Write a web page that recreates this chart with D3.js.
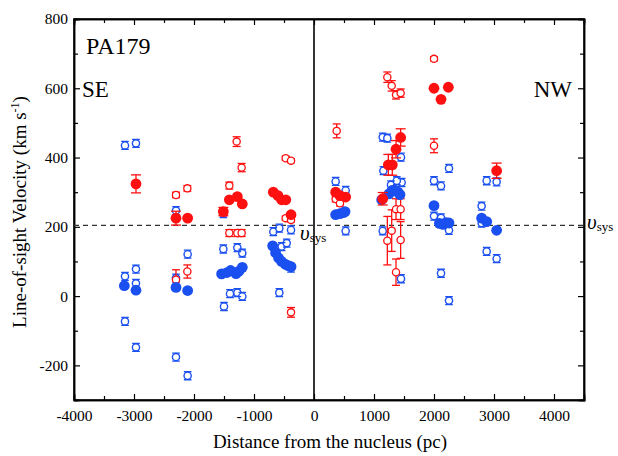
<!DOCTYPE html>
<html>
<head>
<meta charset="utf-8">
<script src="https://cdn.jsdelivr.net/npm/d3@7"></script>
<style>
  body { margin: 0; background: #fff; }
  text { font-family: "Liberation Serif", "Times New Roman", serif; }
</style>
</head>
<body>
<div id="chart"></div>
<script>
// data: [distance pc, velocity km/s, error]
var redFilled = [
  [-2967, 324, 26], [-2300, 225, 20], [-2106, 225, 0],
  [-1511, 244, 12], [-1411, 278, 0], [-1278, 287, 0], [-1195, 266, 0],
  [-678, 300, 0], [-600, 290, 0], [-540, 278, 0], [-470, 278, 0], [-383, 235, 0],
  [361, 300, 0], [433, 290, 0], [528, 286, 0],
  [1145, 281, 18], [1239, 379, 30], [1305, 379, 30], [1367, 424, 25], [1444, 458, 25],
  [2000, 600, 0], [2239, 603, 0], [2117, 568, 0],
  [3044, 362, 22]
];
var redOpen = [
  [-2300, 292, 8], [-2111, 311, 8], [-2300, 47, 29], [-2111, 71, 19],
  [-1289, 446, 14], [-1206, 371, 12], [-1411, 319, 10],
  [-1411, 182, 10], [-1278, 182, 10], [-1206, 182, 10],
  [-472, 398, 6], [-383, 391, 6], [-472, 225, 6], [-383, 220, 6], [-383, -47, 14],
  [378, 477, 20], [361, 280, 8], [433, 268, 8],
  [1222, 632, 15], [1295, 607, 15], [1367, 581, 12], [1444, 586, 12],
  [1367, 251, 30], [1444, 251, 30],
  [1295, 189, 60], [1222, 160, 70], [1444, 162, 53], [1367, 69, 38],
  [2000, 685, 6], [2000, 434, 20]
];
var blueFilled = [
  [-3161, 30], [-2967, 17], [-2300, 25], [-2106, 16],
  [-1540, 64], [-1450, 68], [-1390, 74], [-1300, 65], [-1250, 72], [-1195, 83],
  [-689, 145], [-640, 125], [-590, 110], [-540, 100], [-480, 92], [-430, 88], [-383, 85],
  [361, 235], [433, 238], [489, 241], [517, 244],
  [1128, 278], [1250, 295], [1300, 305], [1340, 306], [1400, 300], [1433, 293],
  [2000, 261], [2090, 210], [2150, 207], [2200, 212], [2250, 211],
  [2794, 225], [2878, 215], [3044, 190]
];
var blueOpen = [
  [-3150, 435], [-2967, 441], [-3150, 57], [-2967, 78], [-2967, 37], [-3150, -73], [-2967, -148],
  [-2300, 247], [-2300, 52], [-2106, 121], [-2300, -176], [-2106, -230],
  [-1511, 238], [-1511, 136], [-1278, 140], [-1195, 124],
  [-1500, -30], [-1400, 7], [-1278, 10], [-1195, -1],
  [-678, 186], [-578, 196], [-383, 191], [-539, 143], [-455, 153], [-578, 10], [-383, 81],
  [361, 331], [528, 305], [528, 188],
  [1145, 459], [1222, 456], [1450, 401], [1156, 362], [1461, 328], [1283, 321], [1380, 333],
  [1145, 188], [1450, 50],
  [2250, 369], [2000, 333], [2117, 318], [2000, 231], [2117, 226], [2250, 190], [2117, 66], [2250, -13],
  [2794, 260], [2878, 333], [3044, 330], [2794, 211], [2878, 129], [3044, 108]
];
var vSys = 204;
var xMajor = [-4000, -3000, -2000, -1000, 0, 1000, 2000, 3000, 4000];
var xMinor = [-3500, -2500, -1500, -500, 500, 1500, 2500, 3500];
var yMajor = [-200, 0, 200, 400, 600, 800];
var yMinor = [-100, 100, 300, 500, 700];

var red = "#ff1010", blue = "#1a4ff0";

var svg = d3.select("#chart").append("svg")
  .attr("width", 618).attr("height", 456);

var x = d3.scaleLinear().domain([-4000, 4500]).range([74, 584]);
var y = d3.scaleLinear().domain([-300, 800]).range([400, 19]);

// axes, ticks pointing inward
function fmt(d) { return String(d); }
svg.append("g").attr("transform", "translate(0,400)")
  .call(d3.axisBottom(x).tickValues(xMajor).tickSize(-6).tickPadding(10).tickFormat(fmt));
svg.append("g").attr("transform", "translate(0,400)")
  .call(d3.axisBottom(x).tickValues(xMinor).tickSize(-4).tickFormat(""));
svg.append("g").attr("transform", "translate(0,19)")
  .call(d3.axisTop(x).tickValues(xMajor).tickSize(-6).tickFormat(""));
svg.append("g").attr("transform", "translate(0,19)")
  .call(d3.axisTop(x).tickValues(xMinor).tickSize(-4).tickFormat(""));
svg.append("g").attr("transform", "translate(74,0)")
  .call(d3.axisLeft(y).tickValues(yMajor).tickSize(-6).tickPadding(6).tickFormat(fmt));
svg.append("g").attr("transform", "translate(74,0)")
  .call(d3.axisLeft(y).tickValues(yMinor).tickSize(-4).tickFormat(""));
svg.append("g").attr("transform", "translate(584,0)")
  .call(d3.axisRight(y).tickValues(yMajor).tickSize(-6).tickFormat(""));
svg.append("g").attr("transform", "translate(584,0)")
  .call(d3.axisRight(y).tickValues(yMinor).tickSize(-4).tickFormat(""));

svg.selectAll(".domain").attr("stroke", "#000").attr("stroke-width", 1.5);
svg.selectAll(".tick line").attr("stroke", "#000").attr("stroke-width", 1.2);
svg.selectAll("g").attr("font-family", null);
svg.selectAll(".tick text").attr("font-size", 15.5).attr("fill", "#000");

// frame
svg.append("rect").attr("x", 74).attr("y", 19).attr("width", 510).attr("height", 381)
  .attr("fill", "none").attr("stroke", "#000").attr("stroke-width", 1.5);

// nucleus line and systemic velocity
svg.append("line").attr("x1", x(0)).attr("x2", x(0)).attr("y1", 19).attr("y2", 400)
  .attr("stroke", "#000").attr("stroke-width", 1.6);
svg.append("line").attr("x1", 74).attr("x2", 584).attr("y1", y(vSys)).attr("y2", y(vSys))
  .attr("stroke", "#333").attr("stroke-width", 1.2).attr("stroke-dasharray", "5,4");

function drawErr(data, color, cap) {
  var g = svg.append("g").attr("stroke", color).attr("stroke-width", 1.3);
  var d = data.filter(function(p) { return p[2] > 0; });
  g.selectAll(".v").data(d).enter().append("line")
    .attr("x1", p => x(p[0])).attr("x2", p => x(p[0]))
    .attr("y1", p => y(p[1] - p[2])).attr("y2", p => y(p[1] + p[2]));
  g.selectAll(".t").data(d).enter().append("line")
    .attr("x1", p => x(p[0]) - cap).attr("x2", p => x(p[0]) + cap)
    .attr("y1", p => y(p[1] + p[2])).attr("y2", p => y(p[1] + p[2]));
  g.selectAll(".b").data(d).enter().append("line")
    .attr("x1", p => x(p[0]) - cap).attr("x2", p => x(p[0]) + cap)
    .attr("y1", p => y(p[1] - p[2])).attr("y2", p => y(p[1] - p[2]));
}

// blue open: small circle with tight caps (looks square)
var bo = svg.append("g");
bo.selectAll("circle").data(blueOpen).enter().append("circle")
  .attr("cx", d => x(d[0])).attr("cy", d => y(d[1])).attr("r", 3.6)
  .attr("fill", "#fff").attr("stroke", blue).attr("stroke-width", 1.4);
bo.selectAll("path").data(blueOpen).enter().append("path")
  .attr("d", d => {
    var cx = x(d[0]), cy = y(d[1]);
    return "M" + (cx - 3.8) + "," + (cy - 4) + "H" + (cx + 3.8) +
      "M" + (cx - 3.8) + "," + (cy + 4) + "H" + (cx + 3.8);
  })
  .attr("stroke", blue).attr("stroke-width", 1.3).attr("fill", "none");

// red open
drawErr(redOpen, red, 4);
svg.append("g").selectAll("circle").data(redOpen).enter().append("circle")
  .attr("cx", d => x(d[0])).attr("cy", d => y(d[1])).attr("r", 3.6)
  .attr("fill", "#fff").attr("stroke", red).attr("stroke-width", 1.3);

// blue filled
svg.append("g").selectAll("circle").data(blueFilled).enter().append("circle")
  .attr("cx", d => x(d[0])).attr("cy", d => y(d[1])).attr("r", 5.4)
  .attr("fill", blue);

// red filled
drawErr(redFilled, red, 5);
svg.append("g").selectAll("circle").data(redFilled).enter().append("circle")
  .attr("cx", d => x(d[0])).attr("cy", d => y(d[1])).attr("r", 5.4)
  .attr("fill", red);

// labels
svg.append("text").attr("x", 86).attr("y", 54).attr("font-size", 24).text("PA179");
svg.append("text").attr("x", 82).attr("y", 97).attr("font-size", 23).text("SE");
svg.append("text").attr("x", 572).attr("y", 97).attr("font-size", 23)
  .attr("text-anchor", "end").text("NW");

function vsysLabel(px, py) {
  var t = svg.append("text").attr("x", px).attr("y", py).attr("font-size", 21);
  t.append("tspan").attr("font-style", "italic").text("\u03c5");
  t.append("tspan").attr("font-size", 13).attr("dy", 2).text("sys");
}
vsysLabel(300, 240);
vsysLabel(587, 229);

svg.append("text").attr("x", 330).attr("y", 448).attr("font-size", 19)
  .attr("text-anchor", "middle").text("Distance from the nucleus (pc)");

var yl = svg.append("text").attr("transform", "translate(26,212) rotate(-90)")
  .attr("font-size", 19).attr("text-anchor", "middle");
yl.append("tspan").text("Line-of-sight Velocity (km s");
yl.append("tspan").attr("font-size", 12).attr("dy", -7).text("-1");
yl.append("tspan").attr("dy", 7).text(")");
</script>
</body>
</html>
